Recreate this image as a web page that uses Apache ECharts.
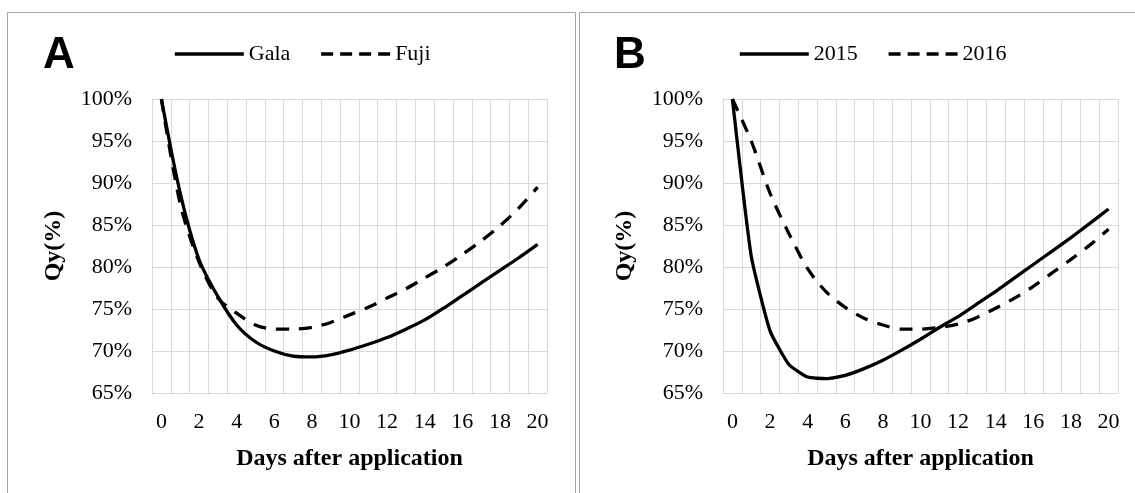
<!DOCTYPE html>
<html>
<head>
<meta charset="utf-8">
<script src="https://cdn.jsdelivr.net/npm/echarts@6/dist/echarts.min.js"></script>
<style>
  html, body { margin: 0; padding: 0; background: #fff; }
  #main { width: 1135px; height: 493px; }
</style>
</head>
<body>
<div id="main"></div>
<script>
// days 0..20
var days = ['0','1','2','3','4','5','6','7','8','9','10','11','12','13','14','15','16','17','18','19','20'];

// panel A (cultivar)
var gala = [100, 88.8, 80.9, 76.5, 73.1, 71.1, 70.0, 69.4, 69.3, 69.55, 70.1, 70.8, 71.6, 72.6, 73.7, 75.1, 76.6, 78.1, 79.6, 81.1, 82.7];
var fuji = [100, 87.5, 80.6, 76.3, 74.5, 73.1, 72.6, 72.6, 72.8, 73.4, 74.3, 75.2, 76.3, 77.4, 78.7, 80.0, 81.5, 83.1, 84.9, 87.0, 89.5];

// panel B (year)
var y2015 = [100, 81.3, 72.4, 68.4, 66.9, 66.7, 67.1, 67.9, 68.9, 70.1, 71.4, 72.8, 74.1, 75.6, 77.1, 78.7, 80.3, 81.9, 83.5, 85.2, 86.9];
var y2016 = [100, 95.0, 88.8, 84.0, 79.8, 77.0, 75.2, 73.9, 73.1, 72.6, 72.6, 72.8, 73.2, 74.0, 75.1, 76.3, 77.7, 79.3, 80.9, 82.6, 84.5];

var yTicks = { min: 65, max: 100, interval: 5 };

var serif = '"Liberation Serif", "Times New Roman", serif';
var gridGray = '#d9d9d9';

function xAxis(idx) {
  return {
    type: 'category', gridIndex: idx, data: days, boundaryGap: true,
    name: 'Days after application', nameLocation: 'middle', nameGap: 54,
    nameTextStyle: { fontFamily: serif, fontWeight: 'bold', fontSize: 24, color: '#000' },
    axisLine: { lineStyle: { color: gridGray, width: 1 } },
    axisTick: { show: false },
    axisLabel: { interval: 1, margin: 18, fontFamily: serif, fontSize: 22, color: '#000' },
    splitLine: { show: true, interval: 0, lineStyle: { color: gridGray, width: 1 } }
  };
}

function yAxis(idx) {
  return {
    type: 'value', gridIndex: idx, min: yTicks.min, max: yTicks.max, interval: yTicks.interval,
    name: 'Qy(%)', nameLocation: 'middle', nameGap: 86, nameRotate: 90,
    nameTextStyle: { fontFamily: serif, fontWeight: 'bold', fontSize: 24, color: '#000' },
    axisLine: { show: true, lineStyle: { color: gridGray, width: 1 } },
    axisTick: { show: false },
    axisLabel: { margin: 20, fontFamily: serif, fontSize: 22, color: '#000', formatter: '{value}%' },
    splitLine: { show: true, lineStyle: { color: gridGray, width: 1 } }
  };
}

function line(name, data, idx, dashed, smooth) {
  return {
    name: name, type: 'line', xAxisIndex: idx, yAxisIndex: idx, data: data,
    symbol: 'none', smooth: smooth, silent: true,
    lineStyle: { color: '#000', width: 3.3, type: dashed ? [13, 10] : 'solid' },
    itemStyle: { color: '#000' }
  };
}

function legend(names, left) {
  return {
    data: [
      { name: names[0], lineStyle: { width: 3.6, type: 'solid' } },
      { name: names[1], lineStyle: { width: 3.6, type: [12, 7] } }
    ],
    left: left, top: 38, orient: 'horizontal',
    itemWidth: 69, itemHeight: 22, itemGap: 29,
    itemStyle: { opacity: 0 },
    textStyle: { fontFamily: serif, fontSize: 22, color: '#000' },
    selectedMode: false
  };
}

var myChart = echarts.init(document.getElementById('main'), null, { renderer: 'canvas' });
myChart.setOption({
  backgroundColor: '#fff',
  animation: false,
  grid: [
    { left: 152, top: 99, width: 395, height: 294 },
    { left: 723, top: 99, width: 395, height: 294 }
  ],
  xAxis: [xAxis(0), xAxis(1)],
  yAxis: [yAxis(0), yAxis(1)],
  legend: [legend(['Gala', 'Fuji'], 168), legend(['2015', '2016'], 733)],
  series: [
    line('Gala', gala, 0, false, 0.3),
    line('Fuji', fuji, 0, true, 0.3),
    line('2015', y2015, 1, false, 0.15),
    line('2016', y2016, 1, true, 0.3)
  ],
  graphic: [
    { type: 'rect', silent: true, shape: { x: 7.5, y: 12.5, width: 568, height: 500 },
      style: { fill: 'none', stroke: '#a6a6a6', lineWidth: 1 } },
    { type: 'rect', silent: true, shape: { x: 579.5, y: 12.5, width: 600, height: 500 },
      style: { fill: 'none', stroke: '#a6a6a6', lineWidth: 1 } },
    { type: 'text', silent: true, x: 43, y: 56,
      style: { text: 'A', font: 'bold 44px "Liberation Sans", Arial, sans-serif', fill: '#000', verticalAlign: 'middle' } },
    { type: 'text', silent: true, x: 614, y: 56,
      style: { text: 'B', font: 'bold 44px "Liberation Sans", Arial, sans-serif', fill: '#000', verticalAlign: 'middle' } }
  ]
});
</script>
</body>
</html>
